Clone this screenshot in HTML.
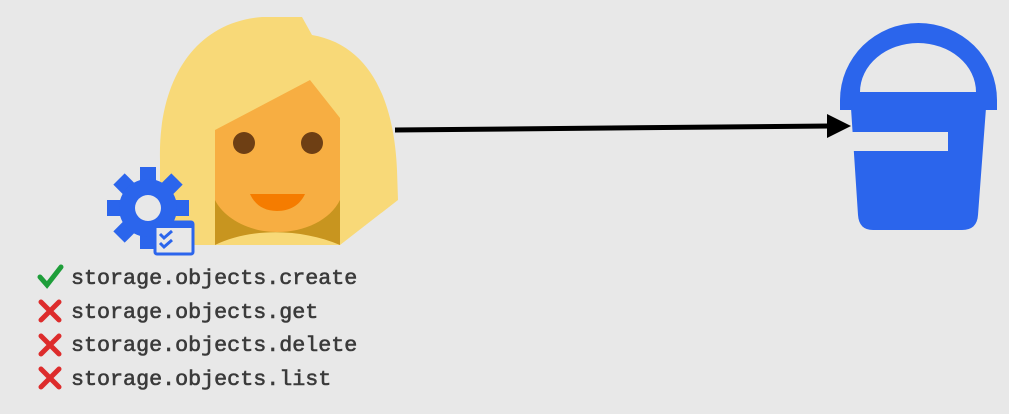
<!DOCTYPE html>
<html><head><meta charset="utf-8"><style>
html,body{margin:0;padding:0;background:#e8e8e8;}
svg{display:block}
</style></head><body>
<svg width="1009" height="414" viewBox="0 0 1009 414" xmlns="http://www.w3.org/2000/svg">
<rect width="1009" height="414" fill="#e8e8e8"/>
<!-- hair -->
<path d="M160,245 L160,160 C158,80 195,22 262,17 L302,17 L312,35 C370,45 394,100 397,170 L398,200 L340,245 Z" fill="#F8D978"/>
<!-- neck/shadow -->
<path d="M215,190 L340,190 L340,245 C300,228 250,228 215,245 Z" fill="#C8951F"/>
<!-- face -->
<path d="M215,130 L310,80 L340,118 L340,200 C330,220 305,232 277,232 C245,232 222,215 215,200 Z" fill="#F7AE42"/>
<circle cx="244" cy="143" r="11" fill="#6E3F14"/>
<circle cx="312" cy="143" r="11" fill="#6E3F14"/>
<path d="M250,194 L305,194 C300,205 290,211 277,211 C264,211 255,205 250,194 Z" fill="#F57C00"/>
<!-- gear -->
<g transform="translate(148,208)" fill="#2B65EC">
  <rect x="-8" y="-41" width="16" height="16"/>
  <rect x="-8" y="-41" width="16" height="16" transform="rotate(45)"/>
  <rect x="-8" y="-41" width="16" height="16" transform="rotate(90)"/>
  <rect x="-8" y="-41" width="16" height="16" transform="rotate(135)"/>
  <rect x="-8" y="-41" width="16" height="16" transform="rotate(180)"/>
  <rect x="-8" y="-41" width="16" height="16" transform="rotate(225)"/>
  <rect x="-8" y="-41" width="16" height="16" transform="rotate(270)"/>
  <rect x="-8" y="-41" width="16" height="16" transform="rotate(315)"/>
  <circle r="29"/>
  <circle r="13" fill="#e8e8e8"/>
</g>
<!-- window -->
<rect x="155" y="222" width="38" height="32" fill="#e8e8e8" stroke="#2B65EC" stroke-width="3" rx="2"/>
<rect x="155" y="222" width="38" height="6" fill="#2B65EC"/>
<path d="M160,234 l4,4 l8,-7 M160,243 l4,4 l8,-7" stroke="#2B65EC" stroke-width="3" fill="none"/>
<!-- arrow -->
<line x1="395" y1="130" x2="830" y2="126" stroke="#000" stroke-width="5"/>
<polygon points="827,114 851,126 827,138" fill="#000"/>
<!-- bucket -->
<path d="M840,110 L840,100 A78.5,77 0 0 1 997,100 L997,110 Z" fill="#2B65EC"/>
<path d="M860,92 A58,49 0 0 1 976,92 Z" fill="#e8e8e8"/>
<path d="M851,108 L986,108 L978,215 Q977,230 962,230 L873,230 Q859,230 858,215 Z" fill="#2B65EC"/>
<rect x="851" y="132" width="97" height="19" fill="#e8e8e8"/>
<!-- list -->
<path d="M40,277 l7,8 l14,-18" stroke="#1E9E3A" stroke-width="5" fill="none" stroke-linecap="round"/>
<g stroke="#DD2C2C" stroke-width="5" stroke-linecap="round">
<path d="M41,302 l18,18 M59,302 l-18,18"/>
<path d="M41,336 l18,18 M59,336 l-18,18"/>
<path d="M41,369 l18,18 M59,369 l-18,18"/>
</g>
<g font-family="Liberation Mono, monospace" font-size="21.7" fill="#3a3a3a" stroke="#3a3a3a" stroke-width="0.6">
<text x="71" y="284">storage.objects.create</text>
<text x="71" y="318">storage.objects.get</text>
<text x="71" y="351">storage.objects.delete</text>
<text x="71" y="385">storage.objects.list</text>
</g>
</svg>
</body></html>
